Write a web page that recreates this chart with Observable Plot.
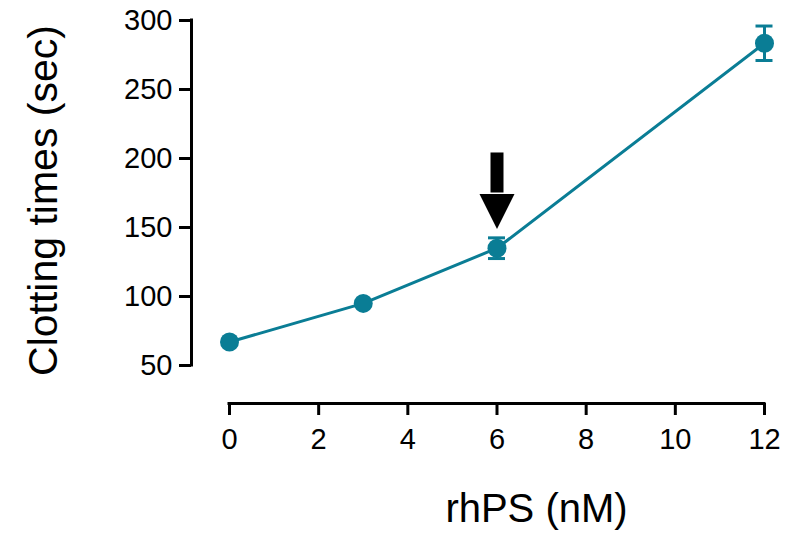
<!DOCTYPE html>
<html><head><meta charset="utf-8">
<script src="https://cdn.jsdelivr.net/npm/d3@7"></script>
<script src="https://cdn.jsdelivr.net/npm/@observablehq/plot@0.6"></script>
<style>
body{margin:0;background:#fff}
svg{font-family:"Liberation Sans",Arial,sans-serif}
</style>
</head><body><div id="chart"></div>
<script>
// ---- data ----
const concentrations = [0, 3, 6, 12];          // rhPS (nM)
const clottingTimes  = [67, 95, 135, 283.5];    // seconds
const errors         = [0, 0, 7.5, 12.5];       // ± sec
const xTicks = [0, 2, 4, 6, 8, 10, 12];
const yTicks = [50, 100, 150, 200, 250, 300];
const xLabel = "rhPS (nM)";
const yLabel = "Clotting times (sec)";
// arrow annotation (data units)
const arrowX = [6];
const arrowShaftTop = [204];
const arrowHeadBase = [175];
const arrowTip = [149];

const data = concentrations.map((x, i) => ({x, y: clottingTimes[i], e: errors[i]}));
const errData = data.filter(d => d.e > 0);
const arrow = arrowX.map((x, i) => ({x, top: arrowShaftTop[i], base: arrowHeadBase[i], tip: arrowTip[i]}));
const teal = "#0a7d95";

const triangleDown = {
  draw(ctx) {
    ctx.moveTo(0, 0);
    ctx.lineTo(-17.5, -35);
    ctx.lineTo(17.5, -35);
    ctx.closePath();
  }
};

const chart = Plot.plot({
  width: 798,
  height: 533,
  marginLeft: 191,
  marginRight: 34,
  marginTop: 20,
  marginBottom: 130,
  x: {domain: [0, 12], range: [229, 764]},
  y: {domain: [50, 300], range: [365, 20]},
  style: {fontFamily: "'Liberation Sans', Arial, sans-serif", color: "black", background: "white"},
  marks: [
    // axis lines
    Plot.ruleX([0], {y1: 50, y2: 300, dx: -38, stroke: "black", strokeWidth: 3, strokeLinecap: "square"}),
    Plot.ruleY([50], {x1: 0, x2: 12, dy: 38, stroke: "black", strokeWidth: 3, strokeLinecap: "square"}),
    Plot.axisY(yTicks, {anchor: "left", tickSize: 12, tickPadding: 7, fontSize: 29, strokeWidth: 3, label: null, tickFormat: d => String(d)}),
    Plot.axisX(xTicks, {anchor: "bottom", tickSize: 12, tickPadding: 13, fontSize: 29, strokeWidth: 3, label: null, tickFormat: d => String(d)}),
    // axis titles
    Plot.text([yLabel], {frameAnchor: "left", textAnchor: "middle", lineAnchor: "middle", dx: -148, dy: -11.5, rotate: -90, fontSize: 41, text: d => d, fill: "black"}),
    Plot.text([xLabel], {frameAnchor: "bottom", textAnchor: "middle", lineAnchor: "middle", dx: 58.5, dy: 106, fontSize: 40, text: d => d, fill: "black"}),
    // arrow
    Plot.ruleX(arrow, {x: "x", y1: "base", y2: "top", stroke: "black", strokeWidth: 13}),
    Plot.dot(arrow, {x: "x", y: "tip", symbol: triangleDown, fill: "black", stroke: null, r: 10}),
    // series
    Plot.line(data, {x: "x", y: "y", stroke: teal, strokeWidth: 3}),
    Plot.ruleX(errData, {x: "x", y1: d => d.y - d.e, y2: d => d.y + d.e, stroke: teal, strokeWidth: 3}),
    Plot.ruleY(errData, {y: d => d.y + d.e, x1: "x", x2: "x", insetLeft: -8.5, insetRight: -8.5, stroke: teal, strokeWidth: 3}),
    Plot.ruleY(errData, {y: d => d.y - d.e, x1: "x", x2: "x", insetLeft: -8.5, insetRight: -8.5, stroke: teal, strokeWidth: 3}),
    Plot.dot(data, {x: "x", y: "y", r: 9.5, fill: teal, stroke: null})
  ]
});
document.getElementById("chart").append(chart);
</script>
</body></html>
